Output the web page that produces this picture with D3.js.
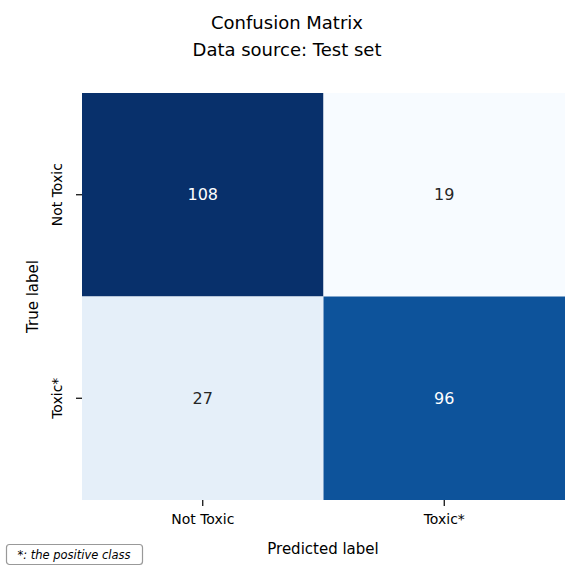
<!DOCTYPE html>
<html><head><meta charset="utf-8">
<script src="https://cdn.jsdelivr.net/npm/d3@7"></script>
<style>body{margin:0;background:#fff}text{font-family:"DejaVu Sans",sans-serif}</style>
</head><body><svg id="c" width="575" height="572"></svg>
<script>
const trueLabels = ["Not Toxic", "Toxic*"];
const predLabels = ["Not Toxic", "Toxic*"];
const counts = [[108, 19], [27, 96]];
const titleLines = ["Confusion Matrix", "Data source: Test set"];

const svg = d3.select("#c");
const L = 82, R = 565, T = 93, B = 500;
const x = d3.scaleBand().domain(predLabels).range([L, R]);
const y = d3.scaleBand().domain(trueLabels).range([T, B]);
const flat = counts.flat();
const color = d3.scaleSequential(d3.interpolateBlues).domain([d3.min(flat), d3.max(flat)]);

const cells = [];
trueLabels.forEach((t, i) => predLabels.forEach((p, j) => cells.push({t, p, v: counts[i][j]})));
svg.selectAll("rect.cell").data(cells).enter().append("rect")
  .attr("x", d => x(d.p)).attr("y", d => y(d.t))
  .attr("width", x.bandwidth()).attr("height", y.bandwidth())
  .attr("fill", d => color(d.v));
svg.selectAll("text.val").data(cells).enter().append("text")
  .attr("x", d => x(d.p) + x.bandwidth() / 2).attr("y", d => y(d.t) + y.bandwidth() / 2)
  .attr("text-anchor", "middle").attr("dominant-baseline", "central")
  .attr("font-size", 16)
  .attr("fill", d => (d.v - color.domain()[0]) / (color.domain()[1] - color.domain()[0]) > 0.6 ? "#fff" : "#262626")
  .text(d => d.v);

const xa = svg.append("g").attr("transform", `translate(0,${B})`)
  .call(d3.axisBottom(x).tickSize(6).tickPadding(8));
const ya = svg.append("g").attr("transform", `translate(${L},0)`)
  .call(d3.axisLeft(y).tickSize(6).tickPadding(8));
[xa, ya].forEach(a => { a.select(".domain").remove(); a.selectAll("text").attr("font-size", 14).attr("fill", "#000").style("font-family", "DejaVu Sans"); a.selectAll("line").attr("stroke-width", 1.2); });
ya.selectAll(".tick text").attr("text-anchor", "middle").attr("transform", "rotate(-90)")
  .attr("x", 0).attr("y", -14).attr("dy", "0");
ya.selectAll(".tick text").each(function () {
  const t = d3.select(this);
  t.attr("transform", "rotate(-90)").attr("x", 0).attr("y", -20);
});

svg.append("text").attr("x", 323).attr("y", 554).attr("text-anchor", "middle").attr("font-size", 15).text("Predicted label");
svg.append("text").attr("transform", `translate(38,${(T + B) / 2}) rotate(-90)`).attr("text-anchor", "middle").attr("font-size", 15).text("True label");
titleLines.forEach((s, i) => svg.append("text").attr("x", 287).attr("y", 29 + i * 27).attr("text-anchor", "middle").attr("font-size", 18).text(s));

svg.append("rect").attr("x", 6.5).attr("y", 544.5).attr("width", 136).attr("height", 20).attr("rx", 3)
  .attr("fill", "#fff").attr("stroke", "#999").attr("stroke-width", 1.2);
svg.append("text").attr("x", 74).attr("y", 558.5).attr("text-anchor", "middle").attr("font-size", 11.5).attr("font-style", "italic").text("*: the positive class");
</script></body></html>
